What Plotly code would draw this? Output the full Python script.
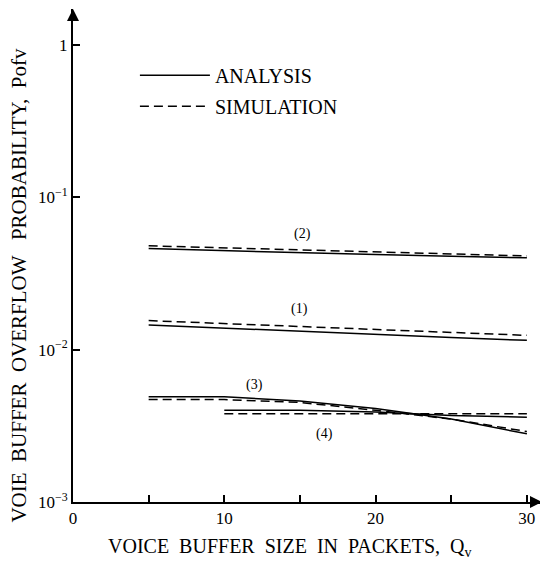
import math
import plotly.graph_objects as go

# ---- data ----
q_main = [5, 10, 15, 20, 25, 30]
q_four = [10, 15, 20, 25, 30]

c1_analysis = [0.0145, 0.0138, 0.0131, 0.0125, 0.0120, 0.0115]
c1_sim      = [0.0155, 0.0148, 0.0141, 0.0135, 0.0129, 0.0124]
c2_analysis = [0.0460, 0.0445, 0.0430, 0.0420, 0.0410, 0.0400]
c2_sim      = [0.0480, 0.0465, 0.0450, 0.0435, 0.0425, 0.0412]
c3_analysis = [0.0049, 0.0049, 0.0046, 0.0041, 0.0035, 0.0028]
c3_sim      = [0.0047, 0.0047, 0.0045, 0.0040, 0.0035, 0.0029]
c4_analysis = [0.0040, 0.0040, 0.0039, 0.0037, 0.0036]
c4_sim      = [0.0038, 0.0038, 0.0038, 0.0038, 0.0038]

curve_labels = ["(1)", "(2)", "(3)", "(4)"]
label_q = [15.0, 15.2, 12.0, 16.6]
label_p = [0.0185, 0.057, 0.0059, 0.0028]

y_tickvals = [1, 0.1, 0.01, 0.001]
y_ticktext = ["1", "10<sup>−1</sup>", "10<sup>−2</sup>", "10<sup>−3</sup>"]
x_tickvals = [0, 5, 10, 15, 20, 25, 30]
x_ticktext = ["0", "", "10", "", "20", "", "30"]

FONT = "Liberation Serif"

fig = go.Figure()
series = [
    (q_main, c1_analysis, c1_sim),
    (q_main, c2_analysis, c2_sim),
    (q_main, c3_analysis, c3_sim),
    (q_four, c4_analysis, c4_sim),
]
for i, (qx, a, s) in enumerate(series):
    fig.add_trace(go.Scatter(x=qx, y=a, mode="lines", name="ANALYSIS",
                             legendgroup="a", showlegend=(i == 0),
                             line=dict(color="black", width=1.5)))
for i, (qx, a, s) in enumerate(series):
    fig.add_trace(go.Scatter(x=qx, y=s, mode="lines", name="SIMULATION",
                             legendgroup="s", showlegend=(i == 0),
                             line=dict(color="black", width=1.5, dash="9px,5px")))

for t, qx, p in zip(curve_labels, label_q, label_p):
    fig.add_annotation(x=qx, y=math.log10(p), text=t, showarrow=False,
                       font=dict(family=FONT, size=14, color="black"))

# axis arrows
fig.add_annotation(xref="paper", yref="paper", x=1.0, y=0, ax=-12, ay=0,
                   text="", showarrow=True, arrowhead=2, arrowsize=1.2,
                   arrowwidth=2, arrowcolor="black")
fig.add_annotation(xref="paper", yref="paper", x=0, y=1.0, ax=0, ay=12,
                   text="", showarrow=True, arrowhead=2, arrowsize=1.2,
                   arrowwidth=2, arrowcolor="black")

# axis titles as text annotations
fig.add_annotation(xref="paper", yref="paper", x=-0.114, y=0.44,
                   xanchor="center", yanchor="middle",
                   text="VOIE  BUFFER  OVERFLOW   PROBABILITY,  Pofv",
                   textangle=-90, showarrow=False,
                   font=dict(family=FONT, size=21, color="black"))
fig.add_annotation(xref="paper", yref="paper", x=0.462, y=-0.093,
                   xanchor="center", yanchor="middle",
                   text="VOICE  BUFFER  SIZE  IN  PACKETS,  Q<sub>v</sub>",
                   showarrow=False,
                   font=dict(family=FONT, size=20, color="black"))

fig.update_layout(
    width=540, height=555,
    margin=dict(l=65, r=6, t=1, b=61),
    paper_bgcolor="white", plot_bgcolor="white",
    font=dict(family=FONT, size=15, color="black"),
    legend=dict(x=0.132, y=0.905, xanchor="left", yanchor="top",
                itemwidth=70, tracegroupgap=2,
                font=dict(family=FONT, size=20), bgcolor="rgba(0,0,0,0)"),
    showlegend=True,
)
fig.update_xaxes(range=[0, 31], showgrid=False, zeroline=False, automargin=False,
                 showline=True, linecolor="black", linewidth=2,
                 tickvals=x_tickvals, ticktext=x_ticktext,
                 ticks="inside", ticklen=7, tickwidth=1.5, tickcolor="black",
                 tickfont=dict(family=FONT, size=17))
fig.update_yaxes(type="log", range=[-3, 0.235], showgrid=False, zeroline=False,
                 automargin=False,
                 showline=True, linecolor="black", linewidth=2,
                 tickvals=y_tickvals, ticktext=y_ticktext,
                 ticks="inside", ticklen=7, tickwidth=1.5, tickcolor="black",
                 tickfont=dict(family=FONT, size=17))

fig.write_html("out.html")
